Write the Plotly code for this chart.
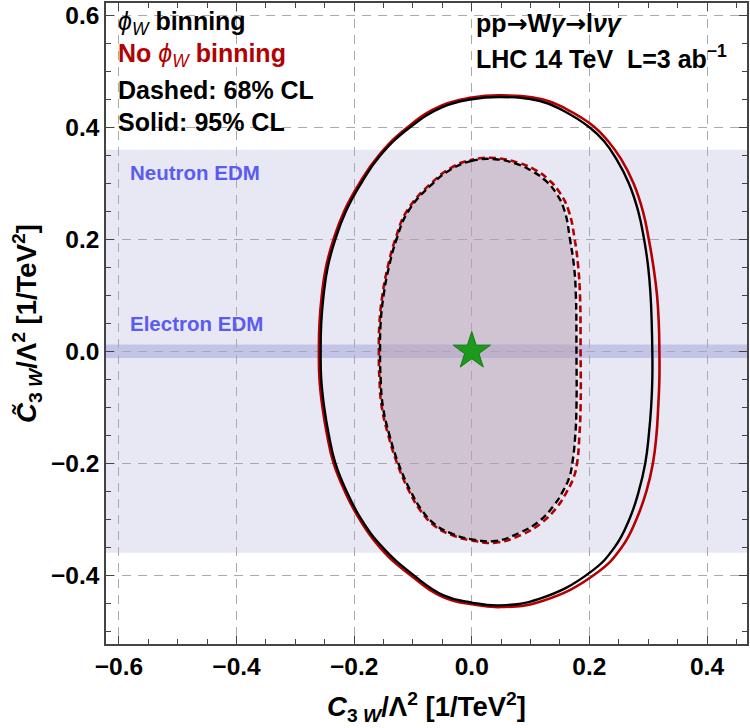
import plotly.graph_objects as go

# ---------------- data ----------------
# 95% CL contour, with phi_W binning (black, solid)
outer_phi_x = [0.048, 0.000, -0.050, -0.105, -0.156, -0.188, -0.214, -0.232, -0.245, -0.252,
               -0.256, -0.257, -0.256, -0.251, -0.243, -0.232, -0.213, -0.188, -0.152, -0.099,
               -0.048, 0.000, 0.048, 0.116, 0.200, 0.243, 0.268, 0.284, 0.295, 0.301,
               0.305, 0.307, 0.307, 0.306, 0.304, 0.300, 0.293, 0.283, 0.267, 0.246,
               0.225, 0.200, 0.155, 0.116, 0.048]
outer_phi_y = [0.454, 0.450, 0.436, 0.400, 0.349, 0.300, 0.250, 0.200, 0.150, 0.100,
               0.050, 0.000, -0.050, -0.100, -0.150, -0.200, -0.250, -0.300, -0.350, -0.400,
               -0.436, -0.449, -0.454, -0.442, -0.396, -0.350, -0.300, -0.250, -0.200, -0.150,
               -0.100, -0.050, 0.000, 0.050, 0.100, 0.150, 0.200, 0.250, 0.300, 0.343,
               0.375, 0.400, 0.430, 0.447, 0.454]
# 95% CL contour, no phi_W binning (red, solid)
outer_nophi_x = [0.048, 0.000, -0.051, -0.107, -0.158, -0.191, -0.217, -0.235, -0.248, -0.255,
                 -0.259, -0.260, -0.259, -0.254, -0.246, -0.235, -0.216, -0.191, -0.155, -0.101,
                 -0.049, 0.000, 0.050, 0.120, 0.210, 0.255, 0.280, 0.297, 0.308, 0.314,
                 0.317, 0.319, 0.319, 0.318, 0.315, 0.309, 0.301, 0.291, 0.275, 0.254,
                 0.232, 0.207, 0.160, 0.120, 0.048]
outer_nophi_y = [0.457, 0.453, 0.439, 0.402, 0.350, 0.300, 0.250, 0.200, 0.150, 0.100,
                 0.050, 0.000, -0.050, -0.100, -0.150, -0.200, -0.250, -0.300, -0.352, -0.403,
                 -0.439, -0.452, -0.457, -0.446, -0.398, -0.350, -0.300, -0.250, -0.200, -0.150,
                 -0.100, -0.050, 0.000, 0.050, 0.100, 0.150, 0.200, 0.250, 0.300, 0.343,
                 0.375, 0.402, 0.433, 0.450, 0.457]
# 68% CL contour, with phi_W binning (black, dashed)
inner_phi_x = [0.040, 0.000, -0.035, -0.066, -0.108, -0.128, -0.141, -0.150, -0.155, -0.156,
               -0.155, -0.151, -0.140, -0.125, -0.104, -0.085, -0.062, -0.034, 0.000, 0.040,
               0.080, 0.113, 0.140, 0.155, 0.166, 0.171, 0.176, 0.178, 0.178, 0.177,
               0.174, 0.167, 0.158, 0.145, 0.125, 0.102, 0.075, 0.040]
inner_phi_y = [0.343, 0.340, 0.325, 0.300, 0.250, 0.200, 0.150, 0.100, 0.050, 0.000,
               -0.050, -0.100, -0.150, -0.200, -0.250, -0.284, -0.310, -0.326, -0.336, -0.339,
               -0.325, -0.305, -0.275, -0.250, -0.225, -0.200, -0.150, -0.100, 0.000, 0.100,
               0.150, 0.200, 0.250, 0.280, 0.305, 0.322, 0.335, 0.343]
# 68% CL contour, no phi_W binning (red, dashed)
inner_nophi_x = [0.040, 0.000, -0.036, -0.068, -0.110, -0.130, -0.143, -0.152, -0.157, -0.158,
                 -0.157, -0.153, -0.142, -0.127, -0.106, -0.087, -0.063, -0.035, 0.000, 0.040,
                 0.084, 0.118, 0.146, 0.161, 0.173, 0.179, 0.183, 0.185, 0.185, 0.184,
                 0.181, 0.175, 0.165, 0.151, 0.130, 0.106, 0.078, 0.040]
inner_nophi_y = [0.345, 0.342, 0.327, 0.301, 0.251, 0.200, 0.150, 0.100, 0.050, 0.000,
                 -0.050, -0.100, -0.150, -0.200, -0.251, -0.285, -0.312, -0.328, -0.338, -0.342,
                 -0.328, -0.307, -0.277, -0.252, -0.226, -0.200, -0.150, -0.100, 0.000, 0.100,
                 0.150, 0.200, 0.250, 0.281, 0.307, 0.325, 0.337, 0.345]

sm_x = [0.0]
sm_y = [0.0]

neutron_edm_bound = 0.36
electron_edm_bound = 0.012

x_range = [-0.622, 0.468]
y_range = [-0.523, 0.622]
x_ticks = [-0.6, -0.4, -0.2, 0.0, 0.2, 0.4]
x_tick_labels = ["\u22120.6", "\u22120.4", "\u22120.2", "0.0", "0.2", "0.4"]
y_ticks = [-0.4, -0.2, 0.0, 0.2, 0.4, 0.6]
y_tick_labels = ["\u22120.4", "\u22120.2", "0.0", "0.2", "0.4", "0.6"]

# ---------------- styling ----------------
FONT = "Liberation Sans, Arial, sans-serif"
RED = "#b40000"
BLACK = "#000000"
BLUE = "#5b5bf2"
W, H = 750, 728
ML, MR, MT, MB = 106, 3, 1, 84
SMOOTH = 1.3

fig = go.Figure()

fig.add_trace(go.Scatter(x=inner_phi_x, y=inner_phi_y, mode="lines", fill="toself",
                         fillcolor="rgba(183,157,175,0.5)",
                         line=dict(width=0, shape="spline", smoothing=SMOOTH),
                         hoverinfo="skip", showlegend=False))
fig.add_trace(go.Scatter(x=outer_nophi_x, y=outer_nophi_y, mode="lines",
                         line=dict(color=RED, width=2.6, shape="spline", smoothing=SMOOTH),
                         showlegend=False))
fig.add_trace(go.Scatter(x=outer_phi_x, y=outer_phi_y, mode="lines",
                         line=dict(color=BLACK, width=2.4, shape="spline", smoothing=SMOOTH),
                         showlegend=False))
fig.add_trace(go.Scatter(x=inner_nophi_x, y=inner_nophi_y, mode="lines",
                         line=dict(color=RED, width=2.6, shape="spline", smoothing=SMOOTH,
                                   dash="2px,4px,5px,0px"),
                         showlegend=False))
fig.add_trace(go.Scatter(x=inner_phi_x, y=inner_phi_y, mode="lines",
                         line=dict(color=BLACK, width=2.4, shape="spline", smoothing=SMOOTH,
                                   dash="7px,4px"),
                         showlegend=False))
fig.add_trace(go.Scatter(x=sm_x, y=sm_y, mode="markers",
                         marker=dict(symbol="star", size=28, color="#1b9a1b",
                                     line=dict(color="#137a13", width=1)),
                         showlegend=False))

fig.add_shape(type="rect", xref="paper", yref="y", x0=0, x1=1,
              y0=-neutron_edm_bound, y1=neutron_edm_bound,
              fillcolor="rgb(232,232,245)", line=dict(width=0), layer="below")
fig.add_shape(type="rect", xref="paper", yref="y", x0=0, x1=1,
              y0=-electron_edm_bound, y1=electron_edm_bound,
              fillcolor="rgba(130,130,210,0.35)", line=dict(width=0), layer="below")


def px(xp):
    return (xp - ML) / (W - ML - MR)


def py(yp):
    return (H - MB - yp) / (H - MT - MB)


def label(text, xp, yp, color=BLACK, size=25):
    fig.add_annotation(text=text, x=px(xp), y=py(yp), xref="paper", yref="paper",
                       xanchor="left", yanchor="middle", showarrow=False,
                       font=dict(family=FONT, size=size, color=color))


ARROW = "<span style='font-family:DejaVu Sans'>\u2192</span>"
label("<i>\u03d5<sub>W</sub></i> <b>binning</b>", 116, 21)
label("<b>No </b><i>\u03d5<sub>W</sub></i><b> binning</b>", 116, 53, color=RED)
label("<b>Dashed: 68% CL</b>", 116, 88)
label("<b>Solid: 95% CL</b>", 116, 120)
label("<b>pp" + ARROW + "W<i>\u03b3</i>" + ARROW + "l<i>\u03bd\u03b3</i></b>", 474, 22)
label("<b>LHC 14 TeV  L=3 ab<sup>\u22121</sup></b>", 474, 55)
label("<b>Neutron EDM</b>", 128, 171, color=BLUE, size=20.5)
label("<b>Electron EDM</b>", 128, 322, color=BLUE, size=20.5)

axis_common = dict(
    showline=True, linecolor="#444444", linewidth=1.5, mirror="ticks",
    ticks="inside", ticklen=8, tickwidth=1.2, tickcolor="#444444",
    showgrid=True, gridcolor="#aaaaaa", gridwidth=1, griddash="9px,7px",
    zeroline=False,
    tickfont=dict(family=FONT, size=24.5, color=BLACK, weight="bold"),
    minor=dict(dtick=0.05, ticks="inside", ticklen=5, tickcolor="#444444", tickwidth=1.2,
               showgrid=False),
)

fig.update_xaxes(range=x_range, tickvals=x_ticks, ticktext=x_tick_labels, **axis_common,
                 title=dict(text="<b><i>C</i><sub>3 <i>W</i></sub>/\u039b<sup>2</sup> [1/TeV<sup>2</sup>]</b>",
                            font=dict(family=FONT, size=27.5, color=BLACK), standoff=18))
fig.update_yaxes(range=y_range, tickvals=y_ticks, ticktext=y_tick_labels, **axis_common,
                 title=dict(text="<b><i>C\u0303</i><sub>3 <i>W</i></sub>/\u039b<sup>2</sup> [1/TeV<sup>2</sup>]</b>",
                            font=dict(family=FONT, size=27.5, color=BLACK), standoff=6))

fig.update_layout(width=W, height=H, margin=dict(l=ML, r=MR, t=MT, b=MB),
                  paper_bgcolor="white", plot_bgcolor="white", showlegend=False,
                  font=dict(family=FONT))

fig.write_html("out.html")
